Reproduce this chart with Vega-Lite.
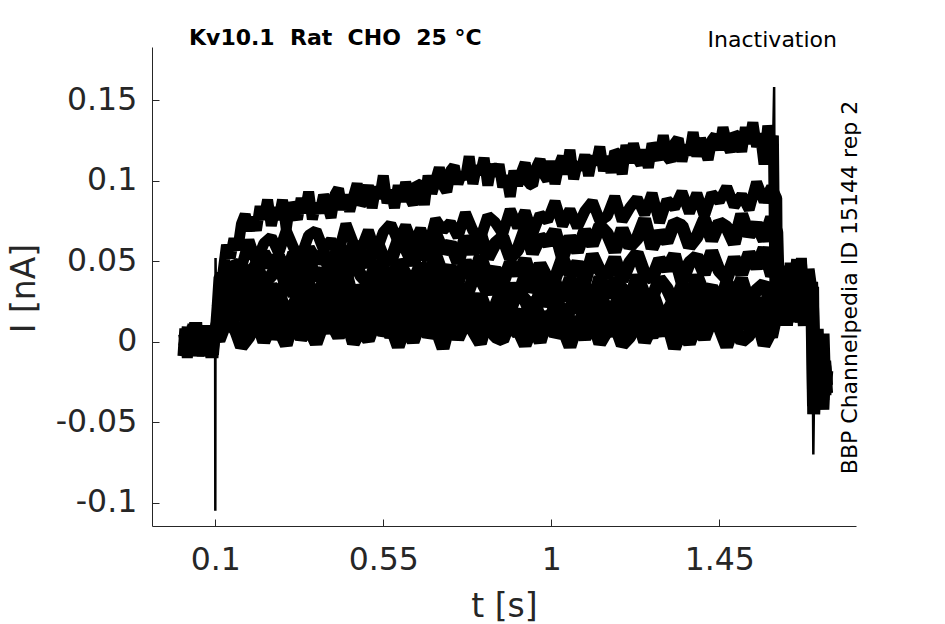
{
"$schema": "https://vega.github.io/schema/vega-lite/v6.json",
"width": 704, "height": 479,
"autosize": {"type": "none"},
"padding": {"left": 152, "top": 47, "right": 89, "bottom": 98},
"background": "white",
"config": {"view": {"stroke": null}, "font": "DejaVu Sans"},
"title": {"text": "Kv10.1 \u00a0Rat \u00a0CHO \u00a025 °C", "anchor": "start", "frame": "group", "dx": 37, "dy": 39, "offset": 0, "baseline": "alphabetic", "fontSize": 22, "fontWeight": "bold", "font": "DejaVu Sans", "color": "#000000"},
"data": {"values": [
{"k":1,"t":0.015,"i":-0.003},{"k":1,"t":0.02,"i":0.002},{"k":1,"t":0.025,"i":-0.01},{"k":1,"t":0.03,"i":0.006},{"k":1,"t":0.035,"i":-0.004},{"k":1,"t":0.04,"i":0.011},{"k":1,"t":0.045,"i":-0.007},{"k":1,"t":0.05,"i":0.001},{"k":1,"t":0.055,"i":-0.005},{"k":1,"t":0.06,"i":0.008},{"k":1,"t":0.065,"i":-0.009},{"k":1,"t":0.07,"i":0.003},{"k":1,"t":0.075,"i":0.007},{"k":1,"t":0.08,"i":-0.006},{"k":1,"t":0.085,"i":0.01},{"k":1,"t":0.09,"i":-0.002},{"k":1,"t":0.095,"i":-0.008},
{"k":1,"t":0.099,"i":0.003},{"k":1,"t":0.105,"i":0.022},
{"k":1,"t":0.11,"i":0.040},{"k":1,"t":0.12,"i":0.042},{"k":1,"t":0.13,"i":0.060},{"k":1,"t":0.14,"i":0.052},{"k":1,"t":0.15,"i":0.064},{"k":1,"t":0.16,"i":0.057},{"k":1,"t":0.17,"i":0.073},{"k":1,"t":0.18,"i":0.079},{"k":1,"t":0.19,"i":0.069},{"k":1,"t":0.20,"i":0.077},
{"k":1,"t":0.21,"i":0.069},{"k":1,"t":0.22,"i":0.084},{"k":1,"t":0.23,"i":0.076},{"k":1,"t":0.24,"i":0.088},{"k":1,"t":0.25,"i":0.072},{"k":1,"t":0.26,"i":0.083},{"k":1,"t":0.27,"i":0.076},{"k":1,"t":0.28,"i":0.088},{"k":1,"t":0.29,"i":0.070},{"k":1,"t":0.30,"i":0.086},
{"k":1,"t":0.31,"i":0.081},{"k":1,"t":0.32,"i":0.076},{"k":1,"t":0.33,"i":0.089},{"k":1,"t":0.34,"i":0.080},{"k":1,"t":0.35,"i":0.093},{"k":1,"t":0.36,"i":0.076},{"k":1,"t":0.37,"i":0.086},{"k":1,"t":0.38,"i":0.080},{"k":1,"t":0.39,"i":0.091},{"k":1,"t":0.40,"i":0.085},
{"k":1,"t":0.41,"i":0.077},{"k":1,"t":0.42,"i":0.091},{"k":1,"t":0.43,"i":0.095},{"k":1,"t":0.44,"i":0.082},{"k":1,"t":0.45,"i":0.091},{"k":1,"t":0.46,"i":0.081},{"k":1,"t":0.47,"i":0.090},{"k":1,"t":0.48,"i":0.098},{"k":1,"t":0.49,"i":0.085},{"k":1,"t":0.50,"i":0.088},
{"k":1,"t":0.51,"i":0.097},{"k":1,"t":0.52,"i":0.083},{"k":1,"t":0.53,"i":0.096},{"k":1,"t":0.54,"i":0.089},{"k":1,"t":0.55,"i":0.103},{"k":1,"t":0.56,"i":0.086},{"k":1,"t":0.57,"i":0.094},{"k":1,"t":0.58,"i":0.083},{"k":1,"t":0.59,"i":0.097},{"k":1,"t":0.60,"i":0.087},
{"k":1,"t":0.61,"i":0.099},{"k":1,"t":0.62,"i":0.090},{"k":1,"t":0.63,"i":0.085},{"k":1,"t":0.64,"i":0.098},{"k":1,"t":0.65,"i":0.097},{"k":1,"t":0.66,"i":0.085},{"k":1,"t":0.67,"i":0.103},{"k":1,"t":0.68,"i":0.092},{"k":1,"t":0.69,"i":0.100},{"k":1,"t":0.70,"i":0.108},
{"k":1,"t":0.71,"i":0.097},{"k":1,"t":0.72,"i":0.093},{"k":1,"t":0.73,"i":0.106},{"k":1,"t":0.74,"i":0.109},{"k":1,"t":0.75,"i":0.098},{"k":1,"t":0.76,"i":0.105},{"k":1,"t":0.77,"i":0.101},{"k":1,"t":0.78,"i":0.115},{"k":1,"t":0.79,"i":0.098},{"k":1,"t":0.80,"i":0.109},
{"k":1,"t":0.81,"i":0.104},{"k":1,"t":0.82,"i":0.114},{"k":1,"t":0.83,"i":0.097},{"k":1,"t":0.84,"i":0.110},{"k":1,"t":0.85,"i":0.103},{"k":1,"t":0.86,"i":0.110},{"k":1,"t":0.87,"i":0.096},{"k":1,"t":0.88,"i":0.103},{"k":1,"t":0.89,"i":0.090},{"k":1,"t":0.90,"i":0.106},
{"k":1,"t":0.91,"i":0.097},{"k":1,"t":0.92,"i":0.105},{"k":1,"t":0.93,"i":0.111},{"k":1,"t":0.94,"i":0.098},{"k":1,"t":0.95,"i":0.097},{"k":1,"t":0.96,"i":0.108},{"k":1,"t":0.97,"i":0.113},{"k":1,"t":0.98,"i":0.104},{"k":1,"t":0.99,"i":0.100},{"k":1,"t":1.00,"i":0.112},
{"k":1,"t":1.01,"i":0.098},{"k":1,"t":1.02,"i":0.109},{"k":1,"t":1.03,"i":0.115},{"k":1,"t":1.04,"i":0.104},{"k":1,"t":1.05,"i":0.119},{"k":1,"t":1.06,"i":0.101},{"k":1,"t":1.07,"i":0.111},{"k":1,"t":1.08,"i":0.107},{"k":1,"t":1.09,"i":0.116},{"k":1,"t":1.10,"i":0.103},
{"k":1,"t":1.11,"i":0.115},{"k":1,"t":1.12,"i":0.110},{"k":1,"t":1.13,"i":0.121},{"k":1,"t":1.14,"i":0.106},{"k":1,"t":1.15,"i":0.115},{"k":1,"t":1.16,"i":0.105},{"k":1,"t":1.17,"i":0.118},{"k":1,"t":1.18,"i":0.116},{"k":1,"t":1.19,"i":0.104},{"k":1,"t":1.20,"i":0.122},
{"k":1,"t":1.21,"i":0.111},{"k":1,"t":1.22,"i":0.123},{"k":1,"t":1.23,"i":0.114},{"k":1,"t":1.24,"i":0.110},{"k":1,"t":1.25,"i":0.119},{"k":1,"t":1.26,"i":0.108},{"k":1,"t":1.27,"i":0.123},{"k":1,"t":1.28,"i":0.118},{"k":1,"t":1.29,"i":0.113},{"k":1,"t":1.30,"i":0.128},
{"k":1,"t":1.31,"i":0.115},{"k":1,"t":1.32,"i":0.112},{"k":1,"t":1.33,"i":0.123},{"k":1,"t":1.34,"i":0.126},{"k":1,"t":1.35,"i":0.112},{"k":1,"t":1.36,"i":0.122},{"k":1,"t":1.37,"i":0.116},{"k":1,"t":1.38,"i":0.130},{"k":1,"t":1.39,"i":0.115},{"k":1,"t":1.40,"i":0.126},
{"k":1,"t":1.41,"i":0.120},{"k":1,"t":1.42,"i":0.113},{"k":1,"t":1.43,"i":0.125},{"k":1,"t":1.44,"i":0.128},{"k":1,"t":1.45,"i":0.119},{"k":1,"t":1.46,"i":0.133},{"k":1,"t":1.47,"i":0.123},{"k":1,"t":1.48,"i":0.118},{"k":1,"t":1.49,"i":0.129},{"k":1,"t":1.50,"i":0.127},
{"k":1,"t":1.51,"i":0.118},{"k":1,"t":1.52,"i":0.133},{"k":1,"t":1.53,"i":0.123},{"k":1,"t":1.54,"i":0.136},{"k":1,"t":1.55,"i":0.121},{"k":1,"t":1.56,"i":0.129},{"k":1,"t":1.57,"i":0.110},{"k":1,"t":1.58,"i":0.134},{"k":1,"t":1.59,"i":0.122},
{"k":1,"t":1.595,"i":0.128},{"k":1,"t":1.599,"i":0.035},
{"k":1,"t":1.605,"i":0.022},{"k":1,"t":1.61,"i":0.041},{"k":1,"t":1.615,"i":0.027},{"k":1,"t":1.62,"i":0.046},{"k":1,"t":1.625,"i":0.019},{"k":1,"t":1.63,"i":0.038},{"k":1,"t":1.635,"i":0.030},{"k":1,"t":1.64,"i":0.049},{"k":1,"t":1.645,"i":0.024},{"k":1,"t":1.65,"i":0.036},
{"k":1,"t":1.655,"i":0.017},{"k":1,"t":1.66,"i":0.043},{"k":1,"t":1.665,"i":0.029},{"k":1,"t":1.67,"i":0.052},{"k":1,"t":1.675,"i":0.026},{"k":1,"t":1.68,"i":0.039},{"k":1,"t":1.685,"i":0.021},{"k":1,"t":1.69,"i":0.044},{"k":1,"t":1.695,"i":0.031},{"k":1,"t":1.70,"i":0.037},
{"k":1,"t":1.705,"i":0.006},{"k":1,"t":1.71,"i":-0.025},{"k":1,"t":1.715,"i":0.008},{"k":1,"t":1.72,"i":-0.030},{"k":1,"t":1.725,"i":-0.014},{"k":1,"t":1.73,"i":-0.036},{"k":1,"t":1.735,"i":-0.012},{"k":1,"t":1.74,"i":-0.027},

{"k":2,"t":0.11,"i":0.036},{"k":2,"t":0.13,"i":0.033},{"k":2,"t":0.15,"i":0.049},{"k":2,"t":0.17,"i":0.046},{"k":2,"t":0.19,"i":0.063},{"k":2,"t":0.21,"i":0.049},{"k":2,"t":0.23,"i":0.061},{"k":2,"t":0.25,"i":0.065},{"k":2,"t":0.27,"i":0.055},{"k":2,"t":0.29,"i":0.069},
{"k":2,"t":0.31,"i":0.058},{"k":2,"t":0.33,"i":0.053},{"k":2,"t":0.35,"i":0.066},{"k":2,"t":0.37,"i":0.069},{"k":2,"t":0.39,"i":0.057},{"k":2,"t":0.41,"i":0.063},{"k":2,"t":0.43,"i":0.055},{"k":2,"t":0.45,"i":0.073},{"k":2,"t":0.47,"i":0.061},{"k":2,"t":0.49,"i":0.057},
{"k":2,"t":0.51,"i":0.069},{"k":2,"t":0.53,"i":0.055},{"k":2,"t":0.55,"i":0.068},{"k":2,"t":0.57,"i":0.073},{"k":2,"t":0.59,"i":0.062},{"k":2,"t":0.61,"i":0.072},{"k":2,"t":0.63,"i":0.060},{"k":2,"t":0.65,"i":0.070},{"k":2,"t":0.67,"i":0.058},{"k":2,"t":0.69,"i":0.076},
{"k":2,"t":0.71,"i":0.069},{"k":2,"t":0.73,"i":0.074},{"k":2,"t":0.75,"i":0.065},{"k":2,"t":0.77,"i":0.080},{"k":2,"t":0.79,"i":0.069},{"k":2,"t":0.81,"i":0.064},{"k":2,"t":0.83,"i":0.078},{"k":2,"t":0.85,"i":0.074},{"k":2,"t":0.87,"i":0.067},{"k":2,"t":0.89,"i":0.082},
{"k":2,"t":0.91,"i":0.071},{"k":2,"t":0.93,"i":0.081},{"k":2,"t":0.95,"i":0.067},{"k":2,"t":0.97,"i":0.079},{"k":2,"t":0.99,"i":0.075},{"k":2,"t":1.01,"i":0.087},{"k":2,"t":1.03,"i":0.072},{"k":2,"t":1.05,"i":0.082},{"k":2,"t":1.07,"i":0.071},{"k":2,"t":1.09,"i":0.081},
{"k":2,"t":1.11,"i":0.087},{"k":2,"t":1.13,"i":0.075},{"k":2,"t":1.15,"i":0.078},{"k":2,"t":1.17,"i":0.090},{"k":2,"t":1.19,"i":0.075},{"k":2,"t":1.21,"i":0.083},{"k":2,"t":1.23,"i":0.089},{"k":2,"t":1.25,"i":0.079},{"k":2,"t":1.27,"i":0.092},{"k":2,"t":1.29,"i":0.074},
{"k":2,"t":1.31,"i":0.088},{"k":2,"t":1.33,"i":0.083},{"k":2,"t":1.35,"i":0.093},{"k":2,"t":1.37,"i":0.080},{"k":2,"t":1.39,"i":0.092},{"k":2,"t":1.41,"i":0.078},{"k":2,"t":1.43,"i":0.092},{"k":2,"t":1.45,"i":0.087},{"k":2,"t":1.47,"i":0.096},{"k":2,"t":1.49,"i":0.084},
{"k":2,"t":1.51,"i":0.091},{"k":2,"t":1.53,"i":0.082},{"k":2,"t":1.55,"i":0.099},{"k":2,"t":1.57,"i":0.087},{"k":2,"t":1.59,"i":0.096},{"k":2,"t":1.604,"i":0.089},{"k":2,"t":1.606,"i":0.031},

{"k":3,"t":0.11,"i":0.031},{"k":3,"t":0.13,"i":0.030},{"k":3,"t":0.15,"i":0.047},{"k":3,"t":0.17,"i":0.034},{"k":3,"t":0.19,"i":0.046},{"k":3,"t":0.21,"i":0.041},{"k":3,"t":0.23,"i":0.055},{"k":3,"t":0.25,"i":0.047},{"k":3,"t":0.27,"i":0.053},{"k":3,"t":0.29,"i":0.041},
{"k":3,"t":0.31,"i":0.055},{"k":3,"t":0.33,"i":0.045},{"k":3,"t":0.35,"i":0.058},{"k":3,"t":0.37,"i":0.050},{"k":3,"t":0.39,"i":0.055},{"k":3,"t":0.41,"i":0.042},{"k":3,"t":0.43,"i":0.061},{"k":3,"t":0.45,"i":0.049},{"k":3,"t":0.47,"i":0.060},{"k":3,"t":0.49,"i":0.055},
{"k":3,"t":0.51,"i":0.047},{"k":3,"t":0.53,"i":0.064},{"k":3,"t":0.55,"i":0.052},{"k":3,"t":0.57,"i":0.050},{"k":3,"t":0.59,"i":0.063},{"k":3,"t":0.61,"i":0.058},{"k":3,"t":0.63,"i":0.048},{"k":3,"t":0.65,"i":0.061},{"k":3,"t":0.67,"i":0.051},{"k":3,"t":0.69,"i":0.067},
{"k":3,"t":0.71,"i":0.056},{"k":3,"t":0.73,"i":0.061},{"k":3,"t":0.75,"i":0.049},{"k":3,"t":0.77,"i":0.065},{"k":3,"t":0.79,"i":0.055},{"k":3,"t":0.81,"i":0.067},{"k":3,"t":0.83,"i":0.052},{"k":3,"t":0.85,"i":0.061},{"k":3,"t":0.87,"i":0.065},{"k":3,"t":0.89,"i":0.052},
{"k":3,"t":0.91,"i":0.057},{"k":3,"t":0.93,"i":0.070},{"k":3,"t":0.95,"i":0.055},{"k":3,"t":0.97,"i":0.065},{"k":3,"t":0.99,"i":0.061},{"k":3,"t":1.01,"i":0.069},{"k":3,"t":1.03,"i":0.052},{"k":3,"t":1.05,"i":0.065},{"k":3,"t":1.07,"i":0.056},{"k":3,"t":1.09,"i":0.069},
{"k":3,"t":1.11,"i":0.060},{"k":3,"t":1.13,"i":0.072},{"k":3,"t":1.15,"i":0.067},{"k":3,"t":1.17,"i":0.056},{"k":3,"t":1.19,"i":0.070},{"k":3,"t":1.21,"i":0.059},{"k":3,"t":1.23,"i":0.064},{"k":3,"t":1.25,"i":0.076},{"k":3,"t":1.27,"i":0.058},{"k":3,"t":1.29,"i":0.068},
{"k":3,"t":1.31,"i":0.062},{"k":3,"t":1.33,"i":0.074},{"k":3,"t":1.35,"i":0.072},{"k":3,"t":1.37,"i":0.059},{"k":3,"t":1.39,"i":0.065},{"k":3,"t":1.41,"i":0.076},{"k":3,"t":1.43,"i":0.063},{"k":3,"t":1.45,"i":0.074},{"k":3,"t":1.47,"i":0.071},{"k":3,"t":1.49,"i":0.061},
{"k":3,"t":1.51,"i":0.079},{"k":3,"t":1.53,"i":0.066},{"k":3,"t":1.55,"i":0.073},{"k":3,"t":1.57,"i":0.063},{"k":3,"t":1.59,"i":0.077},{"k":3,"t":1.604,"i":0.068},
{"k":3,"t":1.608,"i":0.033},{"k":3,"t":1.618,"i":0.019},{"k":3,"t":1.628,"i":0.042},{"k":3,"t":1.638,"i":0.026},{"k":3,"t":1.648,"i":0.048},{"k":3,"t":1.658,"i":0.021},{"k":3,"t":1.668,"i":0.037},{"k":3,"t":1.678,"i":0.010},{"k":3,"t":1.688,"i":0.045},{"k":3,"t":1.698,"i":0.028},

{"k":4,"t":0.11,"i":0.021},{"k":4,"t":0.13,"i":0.024},{"k":4,"t":0.15,"i":0.039},{"k":4,"t":0.17,"i":0.027},{"k":4,"t":0.19,"i":0.041},{"k":4,"t":0.21,"i":0.048},{"k":4,"t":0.23,"i":0.036},{"k":4,"t":0.25,"i":0.041},{"k":4,"t":0.27,"i":0.049},{"k":4,"t":0.29,"i":0.034},
{"k":4,"t":0.31,"i":0.046},{"k":4,"t":0.33,"i":0.036},{"k":4,"t":0.35,"i":0.051},{"k":4,"t":0.37,"i":0.039},{"k":4,"t":0.39,"i":0.044},{"k":4,"t":0.41,"i":0.032},{"k":4,"t":0.43,"i":0.048},{"k":4,"t":0.45,"i":0.039},{"k":4,"t":0.47,"i":0.051},{"k":4,"t":0.49,"i":0.041},
{"k":4,"t":0.51,"i":0.036},{"k":4,"t":0.53,"i":0.048},{"k":4,"t":0.55,"i":0.046},{"k":4,"t":0.57,"i":0.034},{"k":4,"t":0.59,"i":0.050},{"k":4,"t":0.61,"i":0.042},{"k":4,"t":0.63,"i":0.037},{"k":4,"t":0.65,"i":0.048},{"k":4,"t":0.67,"i":0.036},{"k":4,"t":0.69,"i":0.054},
{"k":4,"t":0.71,"i":0.041},{"k":4,"t":0.73,"i":0.046},{"k":4,"t":0.75,"i":0.037},{"k":4,"t":0.77,"i":0.050},{"k":4,"t":0.79,"i":0.039},{"k":4,"t":0.81,"i":0.053},{"k":4,"t":0.83,"i":0.040},{"k":4,"t":0.85,"i":0.045},{"k":4,"t":0.87,"i":0.036},{"k":4,"t":0.89,"i":0.049},
{"k":4,"t":0.91,"i":0.042},{"k":4,"t":0.93,"i":0.051},{"k":4,"t":0.95,"i":0.036},{"k":4,"t":0.97,"i":0.048},{"k":4,"t":0.99,"i":0.039},{"k":4,"t":1.01,"i":0.039},{"k":4,"t":1.03,"i":0.052},{"k":4,"t":1.05,"i":0.042},{"k":4,"t":1.07,"i":0.049},{"k":4,"t":1.09,"i":0.037},
{"k":4,"t":1.11,"i":0.054},{"k":4,"t":1.13,"i":0.044},{"k":4,"t":1.15,"i":0.041},{"k":4,"t":1.17,"i":0.052},{"k":4,"t":1.19,"i":0.038},{"k":4,"t":1.21,"i":0.049},{"k":4,"t":1.23,"i":0.055},{"k":4,"t":1.25,"i":0.042},{"k":4,"t":1.27,"i":0.039},{"k":4,"t":1.29,"i":0.051},
{"k":4,"t":1.31,"i":0.045},{"k":4,"t":1.33,"i":0.054},{"k":4,"t":1.35,"i":0.037},{"k":4,"t":1.37,"i":0.049},{"k":4,"t":1.39,"i":0.053},{"k":4,"t":1.41,"i":0.042},{"k":4,"t":1.43,"i":0.056},{"k":4,"t":1.45,"i":0.044},{"k":4,"t":1.47,"i":0.039},{"k":4,"t":1.49,"i":0.052},
{"k":4,"t":1.51,"i":0.042},{"k":4,"t":1.53,"i":0.055},{"k":4,"t":1.55,"i":0.046},{"k":4,"t":1.57,"i":0.058},{"k":4,"t":1.59,"i":0.041},{"k":4,"t":1.604,"i":0.047},{"k":4,"t":1.606,"i":0.035},

{"k":5,"t":0.0175,"i":0.005},{"k":5,"t":0.0225,"i":0.0},{"k":5,"t":0.0275,"i":0.009},{"k":5,"t":0.0325,"i":-0.006},{"k":5,"t":0.0375,"i":0.002},{"k":5,"t":0.0425,"i":-0.004},{"k":5,"t":0.0475,"i":0.012},
{"k":5,"t":0.0525,"i":-0.009},{"k":5,"t":0.0575,"i":0.004},{"k":5,"t":0.0625,"i":0.006},{"k":5,"t":0.0675,"i":-0.005},{"k":5,"t":0.0725,"i":0.010},{"k":5,"t":0.0775,"i":-0.002},{"k":5,"t":0.0825,"i":-0.007},{"k":5,"t":0.0875,"i":0.008},{"k":5,"t":0.0925,"i":-0.003},{"k":5,"t":0.0975,"i":0.005},
{"k":5,"t":0.11,"i":0.015},{"k":5,"t":0.13,"i":0.033},{"k":5,"t":0.15,"i":0.022},{"k":5,"t":0.17,"i":0.034},{"k":5,"t":0.19,"i":0.031},{"k":5,"t":0.21,"i":0.040},{"k":5,"t":0.23,"i":0.023},{"k":5,"t":0.25,"i":0.035},{"k":5,"t":0.27,"i":0.026},{"k":5,"t":0.29,"i":0.039},
{"k":5,"t":0.31,"i":0.029},{"k":5,"t":0.33,"i":0.041},{"k":5,"t":0.35,"i":0.036},{"k":5,"t":0.37,"i":0.024},{"k":5,"t":0.39,"i":0.038},{"k":5,"t":0.41,"i":0.027},{"k":5,"t":0.43,"i":0.031},{"k":5,"t":0.45,"i":0.043},{"k":5,"t":0.47,"i":0.025},{"k":5,"t":0.49,"i":0.034},
{"k":5,"t":0.51,"i":0.028},{"k":5,"t":0.53,"i":0.040},{"k":5,"t":0.55,"i":0.037},{"k":5,"t":0.57,"i":0.024},{"k":5,"t":0.59,"i":0.030},{"k":5,"t":0.61,"i":0.041},{"k":5,"t":0.63,"i":0.027},{"k":5,"t":0.65,"i":0.038},{"k":5,"t":0.67,"i":0.035},{"k":5,"t":0.69,"i":0.025},
{"k":5,"t":0.71,"i":0.042},{"k":5,"t":0.73,"i":0.029},{"k":5,"t":0.75,"i":0.036},{"k":5,"t":0.77,"i":0.026},{"k":5,"t":0.79,"i":0.039},{"k":5,"t":0.81,"i":0.039},{"k":5,"t":0.83,"i":0.030},{"k":5,"t":0.85,"i":0.042},{"k":5,"t":0.87,"i":0.026},{"k":5,"t":0.89,"i":0.035},
{"k":5,"t":0.91,"i":0.028},{"k":5,"t":0.93,"i":0.041},{"k":5,"t":0.95,"i":0.032},{"k":5,"t":0.97,"i":0.037},{"k":5,"t":0.99,"i":0.024},{"k":5,"t":1.01,"i":0.037},{"k":5,"t":1.03,"i":0.026},{"k":5,"t":1.05,"i":0.039},{"k":5,"t":1.07,"i":0.030},{"k":5,"t":1.09,"i":0.035},
{"k":5,"t":1.11,"i":0.022},{"k":5,"t":1.13,"i":0.040},{"k":5,"t":1.15,"i":0.028},{"k":5,"t":1.17,"i":0.038},{"k":5,"t":1.19,"i":0.033},{"k":5,"t":1.21,"i":0.025},{"k":5,"t":1.23,"i":0.041},{"k":5,"t":1.25,"i":0.029},{"k":5,"t":1.27,"i":0.027},{"k":5,"t":1.29,"i":0.039},
{"k":5,"t":1.31,"i":0.033},{"k":5,"t":1.33,"i":0.023},{"k":5,"t":1.35,"i":0.035},{"k":5,"t":1.37,"i":0.025},{"k":5,"t":1.39,"i":0.041},{"k":5,"t":1.41,"i":0.029},{"k":5,"t":1.43,"i":0.034},{"k":5,"t":1.45,"i":0.022},{"k":5,"t":1.47,"i":0.037},{"k":5,"t":1.49,"i":0.027},
{"k":5,"t":1.51,"i":0.039},{"k":5,"t":1.53,"i":0.024},{"k":5,"t":1.55,"i":0.032},{"k":5,"t":1.57,"i":0.036},{"k":5,"t":1.59,"i":0.023},
{"k":5,"t":1.6075,"i":0.028},{"k":5,"t":1.6125,"i":0.041},{"k":5,"t":1.6175,"i":0.019},{"k":5,"t":1.6225,"i":0.035},{"k":5,"t":1.6275,"i":0.047},{"k":5,"t":1.6325,"i":0.023},{"k":5,"t":1.6375,"i":0.031},{"k":5,"t":1.6425,"i":0.012},{"k":5,"t":1.6475,"i":0.044},{"k":5,"t":1.6525,"i":0.027},
{"k":5,"t":1.6575,"i":0.038},{"k":5,"t":1.6625,"i":0.021},{"k":5,"t":1.6675,"i":0.049},{"k":5,"t":1.6725,"i":0.030},{"k":5,"t":1.6775,"i":0.025},{"k":5,"t":1.6825,"i":0.042},{"k":5,"t":1.6875,"i":0.013},{"k":5,"t":1.6925,"i":0.036},{"k":5,"t":1.6975,"i":0.033},
{"k":5,"t":1.7025,"i":-0.040},{"k":5,"t":1.7075,"i":-0.018},{"k":5,"t":1.7125,"i":-0.035},{"k":5,"t":1.7175,"i":-0.006},{"k":5,"t":1.7225,"i":-0.028},{"k":5,"t":1.7275,"i":-0.042},{"k":5,"t":1.7325,"i":-0.015},{"k":5,"t":1.7375,"i":-0.032},

{"k":6,"t":0.11,"i":0.025},{"k":6,"t":0.13,"i":0.012},{"k":6,"t":0.15,"i":0.027},{"k":6,"t":0.17,"i":0.019},{"k":6,"t":0.19,"i":0.024},{"k":6,"t":0.21,"i":0.032},{"k":6,"t":0.23,"i":0.016},{"k":6,"t":0.25,"i":0.028},{"k":6,"t":0.27,"i":0.030},{"k":6,"t":0.29,"i":0.018},
{"k":6,"t":0.31,"i":0.023},{"k":6,"t":0.33,"i":0.033},{"k":6,"t":0.35,"i":0.021},{"k":6,"t":0.37,"i":0.031},{"k":6,"t":0.39,"i":0.015},{"k":6,"t":0.41,"i":0.027},{"k":6,"t":0.43,"i":0.022},{"k":6,"t":0.45,"i":0.034},{"k":6,"t":0.47,"i":0.019},{"k":6,"t":0.49,"i":0.029},
{"k":6,"t":0.51,"i":0.017},{"k":6,"t":0.53,"i":0.032},{"k":6,"t":0.55,"i":0.024},{"k":6,"t":0.57,"i":0.020},{"k":6,"t":0.59,"i":0.033},{"k":6,"t":0.61,"i":0.028},{"k":6,"t":0.63,"i":0.016},{"k":6,"t":0.65,"i":0.031},{"k":6,"t":0.67,"i":0.021},{"k":6,"t":0.69,"i":0.026},
{"k":6,"t":0.71,"i":0.018},{"k":6,"t":0.73,"i":0.035},{"k":6,"t":0.75,"i":0.023},{"k":6,"t":0.77,"i":0.032},{"k":6,"t":0.79,"i":0.019},{"k":6,"t":0.81,"i":0.029},{"k":6,"t":0.83,"i":0.017},{"k":6,"t":0.85,"i":0.022},{"k":6,"t":0.87,"i":0.034},{"k":6,"t":0.89,"i":0.020},
{"k":6,"t":0.91,"i":0.031},{"k":6,"t":0.93,"i":0.026},{"k":6,"t":0.95,"i":0.014},{"k":6,"t":0.97,"i":0.032},{"k":6,"t":0.99,"i":0.023},{"k":6,"t":1.01,"i":0.029},{"k":6,"t":1.03,"i":0.017},{"k":6,"t":1.05,"i":0.020},{"k":6,"t":1.07,"i":0.033},{"k":6,"t":1.09,"i":0.027},
{"k":6,"t":1.11,"i":0.016},{"k":6,"t":1.13,"i":0.030},{"k":6,"t":1.15,"i":0.019},{"k":6,"t":1.17,"i":0.022},{"k":6,"t":1.19,"i":0.032},{"k":6,"t":1.21,"i":0.015},{"k":6,"t":1.23,"i":0.028},{"k":6,"t":1.25,"i":0.021},{"k":6,"t":1.27,"i":0.031},{"k":6,"t":1.29,"i":0.018},
{"k":6,"t":1.31,"i":0.018},{"k":6,"t":1.33,"i":0.027},{"k":6,"t":1.35,"i":0.015},{"k":6,"t":1.37,"i":0.031},{"k":6,"t":1.39,"i":0.022},{"k":6,"t":1.41,"i":0.029},{"k":6,"t":1.43,"i":0.016},{"k":6,"t":1.45,"i":0.025},{"k":6,"t":1.47,"i":0.020},{"k":6,"t":1.49,"i":0.033},
{"k":6,"t":1.51,"i":0.019},{"k":6,"t":1.53,"i":0.030},{"k":6,"t":1.55,"i":0.017},{"k":6,"t":1.57,"i":0.026},{"k":6,"t":1.59,"i":0.021},{"k":6,"t":1.604,"i":0.027},{"k":6,"t":1.606,"i":0.030},

{"k":7,"t":0.11,"i":0.019},{"k":7,"t":0.13,"i":0.010},{"k":7,"t":0.15,"i":0.014},{"k":7,"t":0.17,"i":0.027},{"k":7,"t":0.19,"i":0.011},{"k":7,"t":0.21,"i":0.019},{"k":7,"t":0.23,"i":0.024},{"k":7,"t":0.25,"i":0.014},{"k":7,"t":0.27,"i":0.026},{"k":7,"t":0.29,"i":0.008},
{"k":7,"t":0.31,"i":0.021},{"k":7,"t":0.33,"i":0.016},{"k":7,"t":0.35,"i":0.025},{"k":7,"t":0.37,"i":0.012},{"k":7,"t":0.39,"i":0.023},{"k":7,"t":0.41,"i":0.009},{"k":7,"t":0.43,"i":0.022},{"k":7,"t":0.45,"i":0.017},{"k":7,"t":0.47,"i":0.026},{"k":7,"t":0.49,"i":0.013},
{"k":7,"t":0.51,"i":0.020},{"k":7,"t":0.53,"i":0.011},{"k":7,"t":0.55,"i":0.027},{"k":7,"t":0.57,"i":0.015},{"k":7,"t":0.59,"i":0.024},{"k":7,"t":0.61,"i":0.024},{"k":7,"t":0.63,"i":0.011},{"k":7,"t":0.65,"i":0.021},{"k":7,"t":0.67,"i":0.014},{"k":7,"t":0.69,"i":0.027},
{"k":7,"t":0.71,"i":0.010},{"k":7,"t":0.73,"i":0.020},{"k":7,"t":0.75,"i":0.023},{"k":7,"t":0.77,"i":0.012},{"k":7,"t":0.79,"i":0.026},{"k":7,"t":0.81,"i":0.015},{"k":7,"t":0.83,"i":0.009},{"k":7,"t":0.85,"i":0.022},{"k":7,"t":0.87,"i":0.025},{"k":7,"t":0.89,"i":0.013},
{"k":7,"t":0.91,"i":0.019},{"k":7,"t":0.93,"i":0.009},{"k":7,"t":0.95,"i":0.027},{"k":7,"t":0.97,"i":0.015},{"k":7,"t":0.99,"i":0.011},{"k":7,"t":1.01,"i":0.022},{"k":7,"t":1.03,"i":0.008},{"k":7,"t":1.05,"i":0.020},{"k":7,"t":1.07,"i":0.025},{"k":7,"t":1.09,"i":0.013},
{"k":7,"t":1.11,"i":0.023},{"k":7,"t":1.13,"i":0.010},{"k":7,"t":1.15,"i":0.019},{"k":7,"t":1.17,"i":0.007},{"k":7,"t":1.19,"i":0.024},{"k":7,"t":1.21,"i":0.016},{"k":7,"t":1.23,"i":0.021},{"k":7,"t":1.25,"i":0.011},{"k":7,"t":1.27,"i":0.026},{"k":7,"t":1.29,"i":0.014},
{"k":7,"t":1.31,"i":0.009},{"k":7,"t":1.33,"i":0.022},{"k":7,"t":1.35,"i":0.018},{"k":7,"t":1.37,"i":0.010},{"k":7,"t":1.39,"i":0.025},{"k":7,"t":1.41,"i":0.013},{"k":7,"t":1.43,"i":0.023},{"k":7,"t":1.45,"i":0.008},{"k":7,"t":1.47,"i":0.020},{"k":7,"t":1.49,"i":0.015},
{"k":7,"t":1.51,"i":0.027},{"k":7,"t":1.53,"i":0.011},{"k":7,"t":1.55,"i":0.021},{"k":7,"t":1.57,"i":0.009},{"k":7,"t":1.59,"i":0.019},{"k":7,"t":1.604,"i":0.013},{"k":7,"t":1.606,"i":0.026},

{"k":8,"t":0.11,"i":0.013},{"k":8,"t":0.13,"i":0.021},{"k":8,"t":0.15,"i":0.008},{"k":8,"t":0.17,"i":0.005},{"k":8,"t":0.19,"i":0.017},{"k":8,"t":0.21,"i":0.011},{"k":8,"t":0.23,"i":0.020},{"k":8,"t":0.25,"i":0.002},{"k":8,"t":0.27,"i":0.014},{"k":8,"t":0.29,"i":0.018},
{"k":8,"t":0.31,"i":0.007},{"k":8,"t":0.33,"i":0.021},{"k":8,"t":0.35,"i":0.009},{"k":8,"t":0.37,"i":0.004},{"k":8,"t":0.39,"i":0.016},{"k":8,"t":0.41,"i":0.006},{"k":8,"t":0.43,"i":0.019},{"k":8,"t":0.45,"i":0.010},{"k":8,"t":0.47,"i":0.022},{"k":8,"t":0.49,"i":0.005},
{"k":8,"t":0.51,"i":0.013},{"k":8,"t":0.53,"i":0.008},{"k":8,"t":0.55,"i":0.018},{"k":8,"t":0.57,"i":0.003},{"k":8,"t":0.59,"i":0.015},{"k":8,"t":0.61,"i":0.020},{"k":8,"t":0.63,"i":0.007},{"k":8,"t":0.65,"i":0.011},{"k":8,"t":0.67,"i":0.019},{"k":8,"t":0.69,"i":0.004},
{"k":8,"t":0.71,"i":0.016},{"k":8,"t":0.73,"i":0.006},{"k":8,"t":0.75,"i":0.021},{"k":8,"t":0.77,"i":0.009},{"k":8,"t":0.79,"i":0.014},{"k":8,"t":0.81,"i":0.002},{"k":8,"t":0.83,"i":0.018},{"k":8,"t":0.85,"i":0.008},{"k":8,"t":0.87,"i":0.020},{"k":8,"t":0.89,"i":0.010},
{"k":8,"t":0.91,"i":0.005},{"k":8,"t":0.93,"i":0.016},{"k":8,"t":0.95,"i":0.014},{"k":8,"t":0.97,"i":0.002},{"k":8,"t":0.99,"i":0.018},{"k":8,"t":1.01,"i":0.010},{"k":8,"t":1.03,"i":0.005},{"k":8,"t":1.05,"i":0.015},{"k":8,"t":1.07,"i":0.003},{"k":8,"t":1.09,"i":0.021},
{"k":8,"t":1.11,"i":0.008},{"k":8,"t":1.13,"i":0.013},{"k":8,"t":1.15,"i":0.004},{"k":8,"t":1.17,"i":0.017},{"k":8,"t":1.19,"i":0.006},{"k":8,"t":1.21,"i":0.020},{"k":8,"t":1.23,"i":0.007},{"k":8,"t":1.25,"i":0.012},{"k":8,"t":1.27,"i":0.003},{"k":8,"t":1.29,"i":0.016},
{"k":8,"t":1.31,"i":0.009},{"k":8,"t":1.33,"i":0.018},{"k":8,"t":1.35,"i":0.002},{"k":8,"t":1.37,"i":0.014},{"k":8,"t":1.39,"i":0.005},{"k":8,"t":1.41,"i":0.005},{"k":8,"t":1.43,"i":0.018},{"k":8,"t":1.45,"i":0.008},{"k":8,"t":1.47,"i":0.015},{"k":8,"t":1.49,"i":0.002},
{"k":8,"t":1.51,"i":0.019},{"k":8,"t":1.53,"i":0.009},{"k":8,"t":1.55,"i":0.006},{"k":8,"t":1.57,"i":0.017},{"k":8,"t":1.59,"i":0.003},{"k":8,"t":1.604,"i":0.018},{"k":8,"t":1.606,"i":0.022},

{"k":9,"t":0.016,"i":-0.009},{"k":9,"t":0.021,"i":0.008},{"k":9,"t":0.026,"i":-0.001},{"k":9,"t":0.031,"i":0.005},{"k":9,"t":0.036,"i":-0.007},{"k":9,"t":0.041,"i":0.010},{"k":9,"t":0.046,"i":-0.003},
{"k":9,"t":0.051,"i":-0.006},{"k":9,"t":0.056,"i":0.004},{"k":9,"t":0.061,"i":0.009},{"k":9,"t":0.066,"i":-0.008},{"k":9,"t":0.071,"i":0.001},{"k":9,"t":0.076,"i":0.007},{"k":9,"t":0.081,"i":-0.005},{"k":9,"t":0.086,"i":0.003},{"k":9,"t":0.091,"i":-0.010},{"k":9,"t":0.096,"i":0.006},
{"k":9,"t":0.11,"i":0.001},{"k":9,"t":0.13,"i":0.013},{"k":9,"t":0.15,"i":0.010},{"k":9,"t":0.17,"i":-0.003},{"k":9,"t":0.19,"i":0.003},{"k":9,"t":0.21,"i":0.014},{"k":9,"t":0.23,"i":0.0},{"k":9,"t":0.25,"i":0.011},{"k":9,"t":0.27,"i":0.008},{"k":9,"t":0.29,"i":-0.002},
{"k":9,"t":0.31,"i":0.015},{"k":9,"t":0.33,"i":0.002},{"k":9,"t":0.35,"i":0.009},{"k":9,"t":0.37,"i":-0.001},{"k":9,"t":0.39,"i":0.012},{"k":9,"t":0.41,"i":0.012},{"k":9,"t":0.43,"i":0.003},{"k":9,"t":0.45,"i":0.015},{"k":9,"t":0.47,"i":-0.001},{"k":9,"t":0.49,"i":0.008},
{"k":9,"t":0.51,"i":0.001},{"k":9,"t":0.53,"i":0.014},{"k":9,"t":0.55,"i":0.005},{"k":9,"t":0.57,"i":0.010},{"k":9,"t":0.59,"i":-0.003},{"k":9,"t":0.61,"i":0.011},{"k":9,"t":0.63,"i":0.0},{"k":9,"t":0.65,"i":0.013},{"k":9,"t":0.67,"i":0.004},{"k":9,"t":0.69,"i":0.009},
{"k":9,"t":0.71,"i":-0.004},{"k":9,"t":0.73,"i":0.014},{"k":9,"t":0.75,"i":0.002},{"k":9,"t":0.77,"i":0.012},{"k":9,"t":0.79,"i":0.007},{"k":9,"t":0.81,"i":-0.001},{"k":9,"t":0.83,"i":0.015},{"k":9,"t":0.85,"i":0.003},{"k":9,"t":0.87,"i":0.001},{"k":9,"t":0.89,"i":0.013},
{"k":9,"t":0.91,"i":0.008},{"k":9,"t":0.93,"i":-0.002},{"k":9,"t":0.95,"i":0.010},{"k":9,"t":0.97,"i":0.0},{"k":9,"t":0.99,"i":0.016},{"k":9,"t":1.01,"i":0.004},{"k":9,"t":1.03,"i":0.009},{"k":9,"t":1.05,"i":-0.003},{"k":9,"t":1.07,"i":0.012},{"k":9,"t":1.09,"i":0.002},
{"k":9,"t":1.11,"i":0.014},{"k":9,"t":1.13,"i":-0.001},{"k":9,"t":1.15,"i":0.007},{"k":9,"t":1.17,"i":0.011},{"k":9,"t":1.19,"i":-0.002},{"k":9,"t":1.21,"i":0.003},{"k":9,"t":1.23,"i":0.015},{"k":9,"t":1.25,"i":0.0},{"k":9,"t":1.27,"i":0.010},{"k":9,"t":1.29,"i":0.005},
{"k":9,"t":1.31,"i":0.013},{"k":9,"t":1.33,"i":-0.004},{"k":9,"t":1.35,"i":0.008},{"k":9,"t":1.37,"i":-0.001},{"k":9,"t":1.39,"i":0.012},{"k":9,"t":1.41,"i":0.002},{"k":9,"t":1.43,"i":0.014},{"k":9,"t":1.45,"i":0.009},{"k":9,"t":1.47,"i":-0.003},{"k":9,"t":1.49,"i":0.011},
{"k":9,"t":1.51,"i":0.0},{"k":9,"t":1.53,"i":0.004},{"k":9,"t":1.55,"i":0.016},{"k":9,"t":1.57,"i":-0.002},{"k":9,"t":1.59,"i":0.007},
{"k":9,"t":1.61,"i":0.025},{"k":9,"t":1.62,"i":0.045},{"k":9,"t":1.63,"i":0.010},{"k":9,"t":1.64,"i":0.038},{"k":9,"t":1.65,"i":0.029},{"k":9,"t":1.66,"i":0.051},{"k":9,"t":1.67,"i":0.012},{"k":9,"t":1.68,"i":0.040},{"k":9,"t":1.69,"i":0.022},{"k":9,"t":1.70,"i":0.034},
{"k":9,"t":1.703,"i":-0.045},{"k":9,"t":1.708,"i":-0.020},{"k":9,"t":1.713,"i":-0.038},{"k":9,"t":1.718,"i":-0.010},{"k":9,"t":1.723,"i":-0.030},{"k":9,"t":1.728,"i":0.005},{"k":9,"t":1.733,"i":-0.033},{"k":9,"t":1.738,"i":-0.018},

{"k":10,"t":0.0995,"i":0.0},{"k":10,"t":0.1,"i":-0.105},{"k":10,"t":0.1006,"i":0.052},{"k":10,"t":0.102,"i":0.025},
{"k":11,"t":1.594,"i":0.12},{"k":11,"t":1.597,"i":0.158},{"k":11,"t":1.5985,"i":0.06},
{"k":12,"t":1.6995,"i":0.02},{"k":12,"t":1.702,"i":-0.07},{"k":12,"t":1.704,"i":-0.03}
]},
"layer": [
{"transform": [{"filter": "datum.k >= 3 && datum.k <= 9"}],
 "mark": {"type": "line", "color": "#000000", "strokeWidth": 13, "strokeJoin": "bevel", "clip": true},
 "encoding": {
  "x": {"field": "t", "type": "quantitative", "scale": {"domain": [-0.0696, 1.8163], "nice": false, "zero": false},
        "axis": {"orient": "bottom", "values": [0.1, 0.55, 1, 1.45], "labelExpr": "'' + datum.value", "title": "t [s]", "grid": false,
                 "domainColor": "#262626", "domainWidth": 1, "tickColor": "#262626", "tickWidth": 1, "tickSize": -7,
                 "labelFont": "DejaVu Sans", "labelFontSize": 31.5, "labelColor": "#262626", "labelPadding": 25.5, "labelFlush": false, "labelOverlap": false,
                 "titleFont": "DejaVu Sans", "titleFontSize": 33, "titleFontWeight": "normal", "titleColor": "#262626", "titleBaseline": "alphabetic", "titleX": 352, "titleY": 90.5, "titleAlign": "center"}},
  "y": {"field": "i", "type": "quantitative", "scale": {"domain": [-0.1144, 0.1829], "nice": false, "zero": false},
        "axis": {"orient": "left", "values": [-0.1, -0.05, 0, 0.05, 0.1, 0.15], "labelExpr": "'' + datum.value", "title": "I [nA]", "grid": false,
                 "domainColor": "#262626", "domainWidth": 1, "tickColor": "#262626", "tickWidth": 1, "tickSize": -7,
                 "labelFont": "DejaVu Sans", "labelFontSize": 31.5, "labelColor": "#262626", "labelPadding": 22.3, "labelFlush": false, "labelOverlap": false,
                 "titleFont": "DejaVu Sans", "titleFontSize": 33, "titleFontWeight": "normal", "titleColor": "#262626", "titleBaseline": "alphabetic", "titleAngle": 270, "titleX": -118, "titleY": 241, "titleAlign": "center"}},
  "detail": {"field": "k", "type": "nominal"}
 }},
{"transform": [{"filter": "datum.k <= 2"}],
 "mark": {"type": "line", "color": "#000000", "strokeWidth": 11, "strokeJoin": "bevel", "clip": true},
 "encoding": {
  "x": {"field": "t", "type": "quantitative", "scale": {"domain": [-0.0696, 1.8163], "nice": false, "zero": false}, "axis": null},
  "y": {"field": "i", "type": "quantitative", "scale": {"domain": [-0.1144, 0.1829], "nice": false, "zero": false}, "axis": null},
  "detail": {"field": "k", "type": "nominal"}
 }},
{"transform": [{"filter": "datum.k >= 10"}],
 "mark": {"type": "line", "color": "#000000", "strokeWidth": 2.5, "clip": true},
 "encoding": {
  "x": {"field": "t", "type": "quantitative", "scale": {"domain": [-0.0696, 1.8163], "nice": false, "zero": false}, "axis": null},
  "y": {"field": "i", "type": "quantitative", "scale": {"domain": [-0.1144, 0.1829], "nice": false, "zero": false}, "axis": null},
  "detail": {"field": "k", "type": "nominal"}
 }},
{"transform": [{"filter": "datum.k == 10"}],
 "mark": {"type": "line", "opacity": 0},
 "encoding": {
  "x": {"field": "t", "type": "quantitative", "scale": {"domain": [-0.0696, 1.8163], "nice": false, "zero": false},
        "axis": {"orient": "top", "labels": false, "ticks": false, "domain": false, "grid": false, "title": "Inactivation",
                 "titleFont": "DejaVu Sans", "titleFontSize": 22, "titleFontWeight": "normal", "titleColor": "#000000", "titleBaseline": "alphabetic", "titleAlign": "right", "titleX": 684.5, "titleY": -1}},
  "y": {"field": "i", "type": "quantitative", "scale": {"domain": [-0.1144, 0.1829], "nice": false, "zero": false},
        "axis": {"orient": "right", "labels": false, "ticks": false, "domain": false, "grid": false, "title": "BBP Channelpedia ID 15144 rep 2",
                 "titleFont": "DejaVu Sans", "titleFontSize": 22, "titleFontWeight": "normal", "titleColor": "#000000", "titleBaseline": "alphabetic", "titleAngle": 270, "titleAlign": "center", "titleX": 0.5, "titleY": 240}},
  "detail": {"field": "k", "type": "nominal"}
 }}
],
"resolve": {"axis": {"x": "independent", "y": "independent"}}
}
